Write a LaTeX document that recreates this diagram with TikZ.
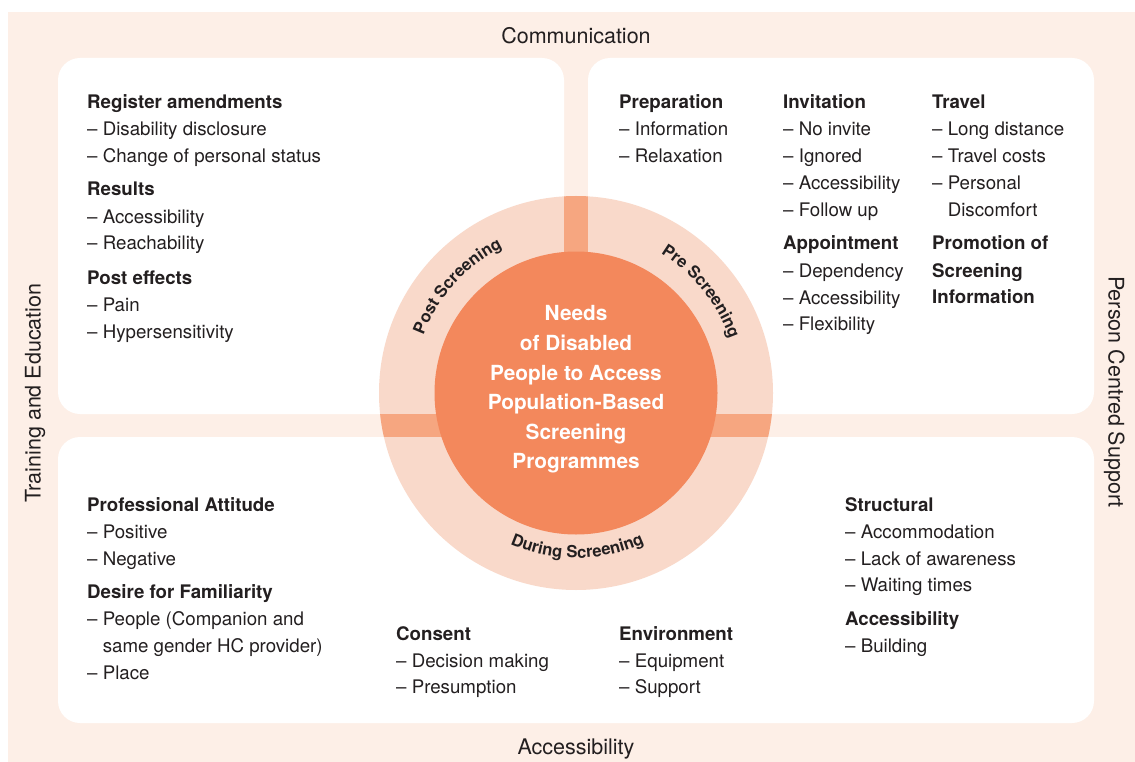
\documentclass[tikz,border=0pt]{standalone}
\usepackage{fontspec}
\setmainfont{TeX Gyre Heros}
\usetikzlibrary{decorations.text}
\definecolor{bgpink}{HTML}{FDEFE7}
\definecolor{ringc}{HTML}{F9D9CA}
\definecolor{stripc}{HTML}{F6A680}
\definecolor{corec}{HTML}{F3885C}
\definecolor{ink}{HTML}{231F20}
\tikzset{
  hd/.style={anchor=base west, inner sep=0pt, text=ink, font=\bfseries\fontsize{18.7}{22}\selectfont},
  it/.style={anchor=base west, inner sep=0pt, text=ink, font=\fontsize{18.7}{22}\selectfont},
  outer/.style={anchor=base, inner sep=0pt, text=ink, font=\fontsize{21.5}{26}\selectfont},
  panel/.style={fill=white, rounded corners=22pt},
  ringlabel/.style={decorate, decoration={text along path, text align=center, text color=ink}}
}
\newcommand{\dsh}{\textendash\ }
\newcommand{\cnt}{\hphantom{\textendash\ }}
\begin{document}
\begin{tikzpicture}[x=1pt,y=-1pt]
\useasboundingbox (0,0) rectangle (1135,762);
\fill[bgpink] (8,12) rectangle (1135,762);
% panels
\path[panel] (58,58) rectangle (564,414);
\path[panel] (588,58) rectangle (1094,414);
\path[panel] (58,437) rectangle (1094,723);
% outer labels
\node[outer] (comm) at (576,43.7) {Communication};
\node[outer] (acc) at (576,754.7) {Accessibility};
\node[outer, rotate=90] (train) at (40.7,393) {Training and Education};
\node[outer, rotate=-90] (pcs) at (1108.5,392) {Person Centred Support};
% circle
\begin{scope}[shift={(576,393)}, y=1pt]
  \fill[ringc] (0,0) circle[radius=197];
  \begin{scope}
    \clip (0,0) circle[radius=197];
    \fill[stripc] (-12,0) rectangle (12,200);
    \fill[stripc] (-200,-21) rectangle (200,-44);
  \end{scope}
  \fill[corec] (0,0) circle[radius=141.5];
  \path[ringlabel, decoration={text={|\bfseries\fontsize{16.6}{17}\selectfont|Post Screening}}]
    (183:163) arc[start angle=183, end angle=93, radius=163];
  \path[ringlabel, decoration={text={|\bfseries\fontsize{16.6}{17}\selectfont|Pre Screening}}]
    (84:163) arc[start angle=84, end angle=-6, radius=163];
  \path[ringlabel, decoration={text={|\bfseries\fontsize{16.6}{17}\selectfont|During Screening}}]
    (225.5:165) arc[start angle=225.5, end angle=315.5, radius=165];
\end{scope}
\node[align=center, text=white, font=\bfseries\fontsize{20.8}{29.6}\selectfont, inner sep=0pt] (core) at (576,389.5)
  {Needs\\of Disabled\\People to Access\\Population-Based\\Screening\\Programmes};
% top-left panel
\node[hd] (ra) at (87,109) {Register amendments};
\node[it] (ra1) at (87,136) {\dsh Disability disclosure};
\node[it] (ra2) at (87,163) {\dsh Change of personal status};
\node[hd] (rs) at (87,196) {Results};
\node[it] (rs1) at (87,223) {\dsh Accessibility};
\node[it] (rs2) at (87,250) {\dsh Reachability};
\node[hd] (pe) at (87,284) {Post effects};
\node[it] (pe1) at (87,311) {\dsh Pain};
\node[it] (pe2) at (87,338) {\dsh Hypersensitivity};
% top-right panel
\node[hd] (pr) at (619,109) {Preparation};
\node[it] (pr1) at (619,136) {\dsh Information};
\node[it] (pr2) at (619,163) {\dsh Relaxation};
\node[hd] (iv) at (783,109) {Invitation};
\node[it] (iv1) at (783,136) {\dsh No invite};
\node[it] (iv2) at (783,163) {\dsh Ignored};
\node[it] (iv3) at (783,190) {\dsh Accessibility};
\node[it] (iv4) at (783,216.5) {\dsh Follow up};
\node[hd] (ap) at (783,250) {Appointment};
\node[it] (ap1) at (783,277) {\dsh Dependency};
\node[it] (ap2) at (783,304) {\dsh Accessibility};
\node[it] (ap3) at (783,330.5) {\dsh Flexibility};
\node[hd] (tv) at (932,109) {Travel};
\node[it] (tv1) at (932,136) {\dsh Long distance};
\node[it] (tv2) at (932,163) {\dsh Travel costs};
\node[it] (tv3) at (932,190) {\dsh Personal};
\node[it] (tv4) at (932,216.5) {\cnt Discomfort};
\node[hd] (pm1) at (932,250) {Promotion of};
\node[hd] (pm2) at (932,277) {Screening};
\node[hd] (pm3) at (932,303.5) {Information};
% bottom panel
\node[hd] (pa) at (87,511) {Professional Attitude};
\node[it] (pa1) at (87,538) {\dsh Positive};
\node[it] (pa2) at (87,565) {\dsh Negative};
\node[hd] (df) at (87,598.5) {Desire for Familiarity};
\node[it] (df1) at (87,625.5) {\dsh People (Companion and};
\node[it] (df2) at (87,652) {\cnt same gender HC provider)};
\node[it] (df3) at (87,679) {\dsh Place};
\node[hd] (cs) at (396,640) {Consent};
\node[it] (cs1) at (396,667) {\dsh Decision making};
\node[it] (cs2) at (396,693.5) {\dsh Presumption};
\node[hd] (en) at (619,640) {Environment};
\node[it] (en1) at (619,667) {\dsh Equipment};
\node[it] (en2) at (619,693.5) {\dsh Support};
\node[hd] (st) at (845,511) {Structural};
\node[it] (st1) at (845,538) {\dsh Accommodation};
\node[it] (st2) at (845,565) {\dsh Lack of awareness};
\node[it] (st3) at (845,591.5) {\dsh Waiting times};
\node[hd] (ac) at (845,625.5) {Accessibility};
\node[it] (ac1) at (845,652) {\dsh Building};
\end{tikzpicture}
\end{document}
